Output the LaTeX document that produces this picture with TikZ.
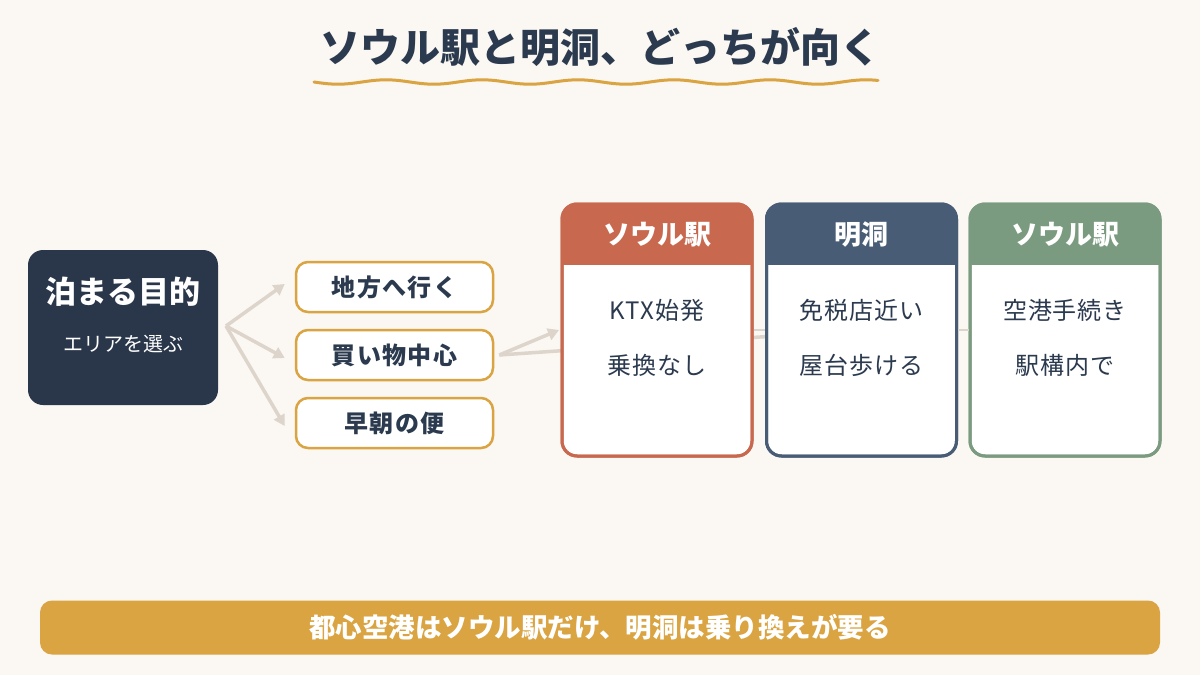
\documentclass[tikz,border=0pt]{standalone}
\usepackage{fontspec}
\setmainfont{Noto Sans CJK JP}
\newfontfamily\spacedfont[LetterSpace=6]{Noto Sans CJK JP}
\newfontfamily\bodyfont[LetterSpace=4]{Noto Sans CJK JP}
\usetikzlibrary{arrows.meta,positioning}
\definecolor{bg}{HTML}{FBF7F2}
\definecolor{ink}{HTML}{2B3A4E}
\definecolor{navybox}{HTML}{2A374A}
\definecolor{gold}{HTML}{D9A441}
\definecolor{arrowc}{HTML}{DDD5CB}
\definecolor{cred}{HTML}{C8694F}
\definecolor{cblue}{HTML}{485D75}
\definecolor{cgreen}{HTML}{7A9B7F}
\tikzset{
  optbox/.style={draw=gold, line width=2.5pt, fill=white, rounded corners=12pt,
    minimum width=197pt, minimum height=50pt, inner sep=0pt, text=ink,
    font=\spacedfont\bfseries\fontsize{24pt}{28pt}\selectfont},
  arr/.style={draw=arrowc, line width=3.5pt, -{Triangle[length=11pt,width=12pt]}},
  cardbox/.style={line width=3pt, fill=white, rounded corners=15pt,
    minimum width=190pt, minimum height=252pt, inner sep=0pt},
  headtext/.style={text=white, font=\bfseries\fontsize{27pt}{31pt}\selectfont},
  bodytext/.style={text=ink, font=\bodyfont\fontsize{24pt}{28pt}\selectfont},
}
\begin{document}
\begin{tikzpicture}[x=1pt,y=-1pt]
\useasboundingbox (0,0) rectangle (1200,675);
\fill[bg] (0,0) rectangle (1200,675);

% title
\node[text=ink, font=\bfseries\fontsize{40pt}{46pt}\selectfont] (title) at (600,47) {ソウル駅と明洞、どっちが向く};
\draw[gold, line width=3pt, line cap=round] plot[domain=314:878, samples=120, smooth] (\x, {82+2.2*sin((\x-314)*3.75)});

% left box
\node[fill=navybox, rounded corners=15pt, minimum width=190pt, minimum height=155pt] (purpose) at (123,327.5) {};
\node[text=white, font=\bfseries\fontsize{31pt}{35pt}\selectfont] (purposeT) at (123,292) {泊まる目的};
\node[text=white, font=\fontsize{20pt}{24pt}\selectfont] (purposeS) at (123,344) {エリアを選ぶ};

% options
\node[optbox] (opt1) at (394.5,287) {地方へ行く};
\node[optbox] (opt2) at (394.5,355) {買い物中心};
\node[optbox] (opt3) at (394.5,423) {早朝の便};

\coordinate (fork) at (226,326);
\draw[arr] (fork) -- ([xshift=-10pt,yshift=3pt]opt1.west);
\draw[arr] (fork) -- ([xshift=-10pt,yshift=-3pt]opt2.west);
\draw[arr] (fork) -- ([xshift=-10pt,yshift=-3pt]opt3.west);

% cards (positions)
\coordinate (c1) at (657,330);
\coordinate (c2) at (861.5,330);
\coordinate (c3) at (1065,330);

% connectors behind cards
\draw[arrowc, line width=3.5pt] ([xshift=5pt]opt2.east) -- (c2);
\draw[arr] ([xshift=5pt]opt2.east) -- ([xshift=-98pt]c1);

% card 1
\node[cardbox, draw=cred] (card1) at (c1) {};
\begin{scope}
\clip[rounded corners=15pt] (562,204) rectangle (752,456);
\fill[cred] (562,204) rectangle (752,265);
\end{scope}
\draw[cred, line width=3pt, rounded corners=15pt] (562,204) rectangle (752,456);
\node[headtext] (h1) at (657,235) {ソウル駅};
\node[bodytext] (b1a) at (657,310) {KTX始発};
\node[bodytext] (b1b) at (657,365) {乗換なし};

% card 2
\node[cardbox, draw=cblue] (card2) at (c2) {};
\begin{scope}
\clip[rounded corners=15pt] (766.5,204) rectangle (956.5,456);
\fill[cblue] (766.5,204) rectangle (956.5,265);
\end{scope}
\draw[cblue, line width=3pt, rounded corners=15pt] (766.5,204) rectangle (956.5,456);
\node[headtext] (h2) at (861.5,235) {明洞};
\node[bodytext] (b2a) at (861.5,310) {免税店近い};
\node[bodytext] (b2b) at (861.5,365) {屋台歩ける};

% card 3
\node[cardbox, draw=cgreen] (card3) at (c3) {};
\begin{scope}
\clip[rounded corners=15pt] (970,204) rectangle (1160,456);
\fill[cgreen] (970,204) rectangle (1160,265);
\end{scope}
\draw[cgreen, line width=3pt, rounded corners=15pt] (970,204) rectangle (1160,456);
\node[headtext] (h3) at (1065,235) {ソウル駅};
\node[bodytext] (b3a) at (1065,310) {空港手続き};
\node[bodytext] (b3b) at (1065,365) {駅構内で};

% faint stubs between cards
\draw[arrowc, line width=2.5pt] (card1.east) -- (card2.west);
\draw[arrowc, line width=2.5pt] (card2.east) -- (card3.west);

% bottom banner
\node[fill=gold, rounded corners=12pt, minimum width=1120pt, minimum height=54pt,
  text=white, font=\bfseries\fontsize{26.5pt}{30pt}\selectfont] (banner) at (600,627.5)
  {都心空港はソウル駅だけ、明洞は乗り換えが要る};
\end{tikzpicture}
\end{document}
